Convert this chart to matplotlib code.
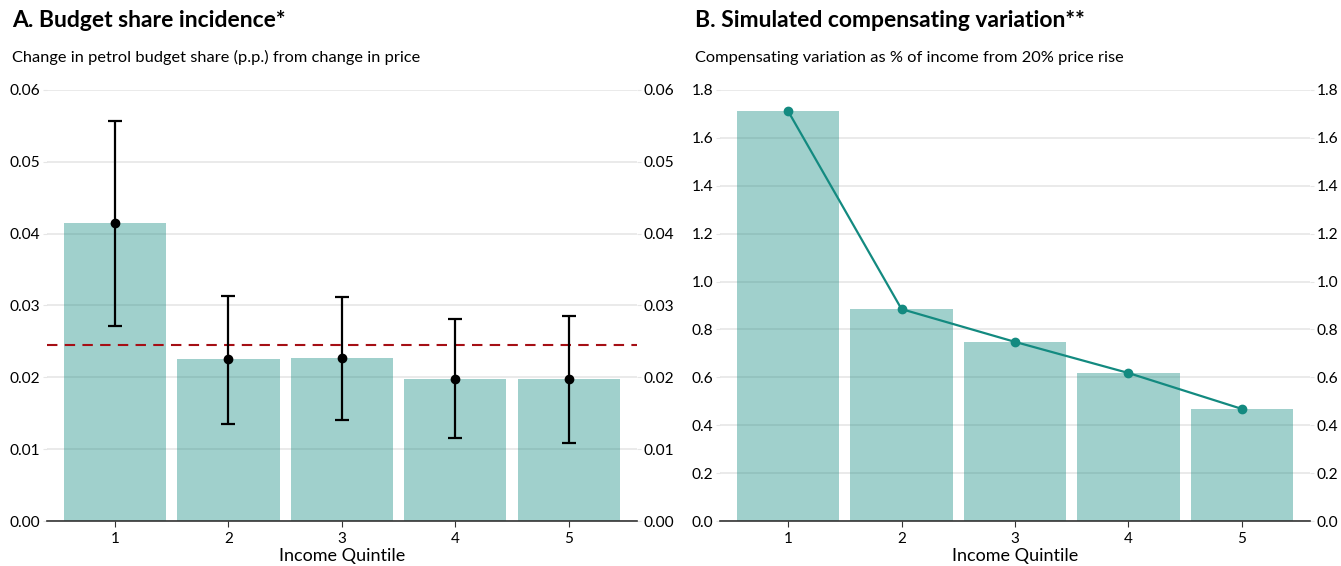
import numpy as np
import matplotlib.pyplot as plt

plt.rcParams['font.family'] = ['Lato', 'DejaVu Sans']

quintiles = [1, 2, 3, 4, 5]

# panel A: budget share incidence with confidence intervals
share = [0.0415, 0.0226, 0.0227, 0.0198, 0.0198]
share_lo = [0.0271, 0.0135, 0.0141, 0.0115, 0.0109]
share_hi = [0.0557, 0.0313, 0.0312, 0.0281, 0.0285]
share_mean = 0.0245

# panel B: compensating variation
cv = [1.712, 0.885, 0.748, 0.618, 0.468]

teal = '#138a80'
grid_col = '#e6e6e6'

fig = plt.figure(figsize=(13.41, 5.66), dpi=100)
ax1 = fig.add_axes([0.0350, 0.0795, 0.44, 0.7615])
ax2 = fig.add_axes([0.5369, 0.0795, 0.44, 0.7615])


def style(ax, ticks, fmt):
    ax.set_xlim(0.4, 5.6)
    ax.set_ylim(0, ticks[-1])
    ax.set_yticks(ticks)
    ax.set_yticklabels([fmt.format(t) for t in ticks])
    ax.set_xticks(quintiles)
    ax.grid(axis='y', color=grid_col, lw=1.2)
    ax.set_axisbelow(True)
    for s in ['top', 'left', 'right']:
        ax.spines[s].set_visible(False)
    ax.spines['bottom'].set_color('#333333')
    ax.spines['bottom'].set_linewidth(1.2)
    ax.tick_params(axis='y', length=3, color=grid_col, labelsize=11.2,
                   labelright=True, right=True, pad=2)
    ax.tick_params(axis='x', length=4, color='#333333', labelsize=11, pad=4)
    ax.set_xlabel('Income Quintile', fontsize=13, labelpad=1)


ax1.bar(quintiles, share, width=0.9, color=teal, alpha=0.4, zorder=2)
ax1.axhline(share_mean, color='#a50f15', lw=1.5, ls=(0, (5, 3.5)), zorder=3)
yerr = [np.array(share) - np.array(share_lo), np.array(share_hi) - np.array(share)]
ax1.errorbar(quintiles, share, yerr=yerr, fmt='o', color='black', ms=6,
             elinewidth=1.6, capsize=5, capthick=1.6, zorder=4)
style(ax1, [0, 0.01, 0.02, 0.03, 0.04, 0.05, 0.06], '{:.2f}')

ax2.bar(quintiles, cv, width=0.9, color=teal, alpha=0.4, zorder=2)
ax2.plot(quintiles, cv, color=teal, lw=1.6, marker='o', ms=6, zorder=4)
style(ax2, [0, 0.2, 0.4, 0.6, 0.8, 1.0, 1.2, 1.4, 1.6, 1.8], '{:.1f}')

fig.text(0.009, 0.963, 'A. Budget share incidence*', fontsize=16.5,
         fontweight='bold', va='center')
fig.text(0.009, 0.898, 'Change in petrol budget share (p.p.) from change in price',
         fontsize=11.8, va='center')
fig.text(0.518, 0.963, 'B. Simulated compensating variation**', fontsize=16.5,
         fontweight='bold', va='center')
fig.text(0.518, 0.898, 'Compensating variation as % of income from 20% price rise',
         fontsize=11.8, va='center')

fig.savefig('out.png', dpi=100)
